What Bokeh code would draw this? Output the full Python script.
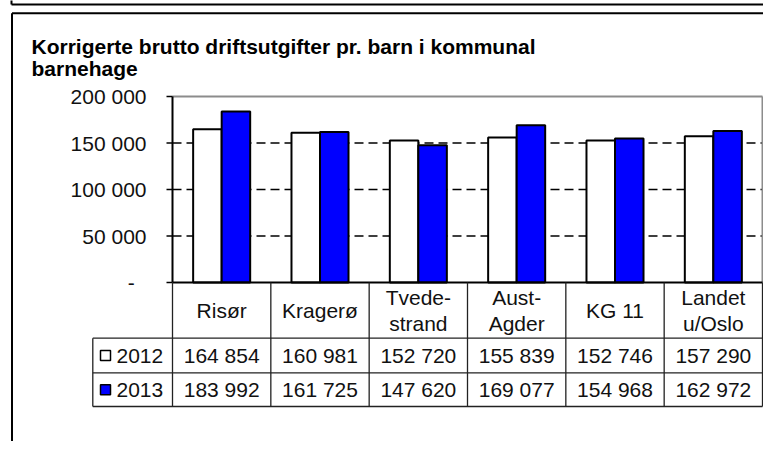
from bokeh.plotting import figure
from bokeh.models import Range1d, ColumnDataSource
from bokeh.core.properties import value
from bokeh.embed import file_html
from bokeh.resources import INLINE

# ---------------- data ----------------
title_lines = ["Korrigerte brutto driftsutgifter pr. barn i kommunal", "barnehage"]
categories = ["Risør", "Kragerø", "Tvedestrand", "Aust-Agder", "KG 11", "Landet u/Oslo"]
category_lines = [["Risør"], ["Kragerø"], ["Tvede-", "strand"], ["Aust-", "Agder"],
                  ["KG 11"], ["Landet", "u/Oslo"]]
series_names = ["2012", "2013"]
values_2012 = [164854, 160981, 152720, 155839, 152746, 157290]
values_2013 = [183992, 161725, 147620, 169077, 154968, 162972]
y_ticks = [0, 50000, 100000, 150000, 200000]
y_tick_labels = ["-\u00a0\u00a0", "50 000", "100 000", "150 000", "200 000"]

# ---------------- styles / layout ----------------
FONT = "Liberation Sans"
TXT = "#111111"
BLUE = "#0000FF"
W, H = 763, 441
FL, FR, FT, FB = 172, 762, 96, 282          # plot area (pixels)
YMAX = y_ticks[-1]
NCAT = len(categories)
PX_PER_CAT = (FR - FL) / NCAT


def dx(px):
    return (px - FL) / PX_PER_CAT


def dy(py):
    return (FB - py) * YMAX / (FB - FT)


p = figure(width=W, height=H,
           x_range=Range1d(dx(0), dx(W)), y_range=Range1d(dy(H), dy(0)),
           output_backend="svg", toolbar_location=None, min_border=0)
p.axis.visible = False
p.grid.visible = False
p.outline_line_color = None
p.background_fill_color = "white"
p.border_fill_color = "white"

# --- gridlines (dashed) ---
gy = y_ticks[1:-1]
p.segment(x0=[0] * len(gy), x1=[NCAT] * len(gy), y0=gy, y1=gy,
          line_color="black", line_width=1.5, line_dash="9 5")

# --- bars ---
BW = 0.29
xc = [i + 0.5 for i in range(NCAT)]
src = ColumnDataSource(dict(x12=[x - BW / 2 for x in xc], x13=[x + BW / 2 for x in xc],
                            v12=values_2012, v13=values_2013))
p.vbar(x="x12", top="v12", bottom=0, width=BW, source=src,
       fill_color="white", line_color="black", line_width=2)
p.vbar(x="x13", top="v13", bottom=0, width=BW, source=src,
       fill_color=BLUE, line_color="black", line_width=2)

# --- plot border (gray top / right) ---
p.segment(x0=[0, NCAT], x1=[NCAT, NCAT], y0=[YMAX, YMAX], y1=[YMAX, 0],
          line_color="#8c8c8c", line_width=2)

# --- axes ---
p.segment(x0=[0, 0], x1=[0, NCAT], y0=[0, 0], y1=[YMAX, 0],
          line_color="black", line_width=2)
p.segment(x0=[dx(FL - 6)] * len(y_ticks), x1=[0] * len(y_ticks), y0=y_ticks, y1=y_ticks,
          line_color="black", line_width=1.5)
p.text(x=[dx(146)] * len(y_ticks), y=y_ticks, text=y_tick_labels,
       text_font=value(FONT), text_font_size="21px", text_color=TXT,
       text_align="right", text_baseline="middle")

# --- title ---
p.text(x=[dx(31)] * len(title_lines), y=[dy(45.7 + 22 * k) for k in range(len(title_lines))],
       text=title_lines, text_font=value(FONT), text_font_size="21px",
       text_font_style="bold", text_color="black",
       text_align="left", text_baseline="alphabetic")

# --- sheet frame lines ---
p.segment(x0=[dx(11.5), dx(11.5), dx(11), dx(11)], x1=[dx(W + 5), dx(11.5), dx(W + 5), dx(11)],
          y0=[dy(12.7), dy(12.7), dy(4), dy(-5)], y1=[dy(12.7), dy(H + 5), dy(4), dy(4)],
          line_color="black", line_width=2)

# --- data table ---
LINE = "#222222"
HDR_B = 337.7
ROW_EDGES = [337.7, 372.3, 406.0]
LEFT_COL = 92.3
tx0, tx1, ty0, ty1 = [], [], [], []
for yy in ROW_EDGES:
    tx0.append(dx(LEFT_COL)); tx1.append(NCAT); ty0.append(dy(yy)); ty1.append(dy(yy))
for i in range(NCAT + 1):
    tx0.append(i); tx1.append(i); ty0.append(0); ty1.append(dy(ROW_EDGES[-1]))
tx0.append(dx(LEFT_COL)); tx1.append(dx(LEFT_COL)); ty0.append(dy(ROW_EDGES[0])); ty1.append(dy(ROW_EDGES[-1]))
p.segment(x0=tx0, x1=tx1, y0=ty0, y1=ty1, line_color=LINE, line_width=1.3)

# header labels
hx, hy, ht = [], [], []
cy = (FB + HDR_B) / 2
for i, lines in enumerate(category_lines):
    n = len(lines)
    for j, t in enumerate(lines):
        hx.append(i + 0.5)
        hy.append(dy(cy + (j - (n - 1) / 2) * 26))
        ht.append(t)
p.text(x=hx, y=hy, text=ht, text_font=value(FONT), text_font_size="21px",
       text_color=TXT, text_align="center", text_baseline="middle")

series_vals = [values_2012, values_2013]
series_fill = ["white", BLUE]
for r in range(2):
    top, bot = ROW_EDGES[r], ROW_EDGES[r + 1]
    rc = (top + bot) / 2
    p.quad(left=[dx(100)], right=[dx(110)], top=[dy(rc - 5)], bottom=[dy(rc + 5)],
           fill_color=series_fill[r], line_color="black", line_width=1.5)
    p.text(x=[dx(116)], y=[dy(rc)], text=[series_names[r]], text_font=value(FONT),
           text_font_size="21px", text_color=TXT, text_align="left", text_baseline="middle")
    p.text(x=xc, y=[dy(rc)] * NCAT, text=[f"{v:,}".replace(",", " ") for v in series_vals[r]],
           text_font=value(FONT), text_font_size="21px", text_color=TXT,
           text_align="center", text_baseline="middle")

open("out.html", "w").write(file_html(p, INLINE))
